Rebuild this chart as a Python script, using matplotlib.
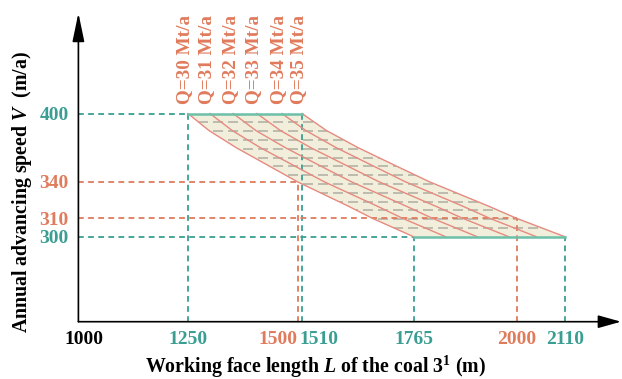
import numpy as np
import matplotlib
matplotlib.use("Agg")
import matplotlib.pyplot as plt
import matplotlib.transforms as mtransforms

plt.rcParams['font.family'] = ['Liberation Serif', 'DejaVu Serif']
plt.rcParams['font.weight'] = 'bold'
plt.rcParams['mathtext.fontset'] = 'custom'
plt.rcParams['mathtext.rm'] = 'Liberation Serif:bold'
plt.rcParams['mathtext.it'] = 'Liberation Serif:italic:bold'
plt.rcParams['mathtext.bf'] = 'Liberation Serif:bold'

# ---------------- data ----------------
Q_labels = ["Q=30 Mt/a", "Q=31 Mt/a", "Q=32 Mt/a", "Q=33 Mt/a", "Q=34 Mt/a", "Q=35 Mt/a"]
V_pts = [400, 385, 370, 355, 340, 320, 310, 300]
L_q30 = [1250, 1298, 1360, 1430, 1500, 1616, 1671, 1765]
L_q31 = [1300, 1351, 1415, 1488, 1561, 1682, 1740, 1838]
L_q32 = [1353, 1405, 1472, 1547, 1623, 1748, 1808, 1910]
L_q33 = [1407, 1461, 1530, 1608, 1686, 1815, 1877, 1982]
L_q34 = [1464, 1519, 1588, 1667, 1746, 1877, 1939, 2045]
L_q35 = [1510, 1566, 1638, 1719, 1801, 1936, 2000, 2110]
curves = [L_q30, L_q31, L_q32, L_q33, L_q34, L_q35]

x_ticks = [1000, 1250, 1500, 1510, 1765, 2000, 2110]
y_ticks = [300, 310, 340, 400]
V_max, V_min = 400, 300
ref_orange = [(1500, 340), (2000, 310)]   # (L, V)
ref_teal_top = [1250, 1510]               # at V=400
ref_teal_bot = [1765, 2110]               # at V=300

# ---------------- style ----------------
TEAL = '#3a9f92'
ORANGE = '#e07b5c'
CURVE = '#e68a80'
FILL = '#f1eedb'
EDGE = '#6cc0a8'
GRAYD = '#b3b3a6'

# schematic (non-uniform) vertical scale of the original
V_KN = [0, 300, 310, 340, 400, 1000]
P_KN = [-370.2, 0, 18.4, 55.0, 123.4, 863.8]
fwd = lambda v: np.interp(v, V_KN, P_KN)
inv = lambda p: np.interp(p, P_KN, V_KN)

fig = plt.figure(figsize=(6.22, 3.79), dpi=100)
ax = fig.add_axes([78.4/622, 57.3/379, (621-78.4)/622, (379-13-57.3)/379])
ax.set_yscale('function', functions=(fwd, inv))
ax.set_xlim(1000, 2237.7)
ax.set_ylim(float(inv(-85.0)), float(inv(224.0)))
ybot = ax.get_ylim()[0]
for s in ax.spines.values():
    s.set_visible(False)

# fill region
poly = ax.fill_betweenx(V_pts, L_q30, L_q35, color=FILL, lw=0, zorder=1)

# gray dashed hatch lines clipped to region
ps = np.linspace(fwd(V_min), fwd(V_max), 15)[1:-1]
for p in ps:
    v = float(inv(p))
    ln, = ax.plot([1000, 2237], [v, v], color=GRAYD, lw=1.2,
                  linestyle=(0, (6, 3)), zorder=2)
    ln.set_clip_path(poly.get_paths()[0], ax.transData)

# reference dashed lines
dash = (0, (3.2, 2.4))
ax.plot([1000, ref_teal_top[0]], [V_max, V_max], color=TEAL, lw=1.3, ls=dash, zorder=3)
ax.plot([1000, ref_teal_bot[0]], [V_min, V_min], color=TEAL, lw=1.3, ls=dash, zorder=3)
for L in ref_teal_top:
    ax.plot([L, L], [ybot, V_max], color=TEAL, lw=1.3, ls=dash, zorder=3)
for L in ref_teal_bot:
    ax.plot([L, L], [ybot, V_min], color=TEAL, lw=1.3, ls=dash, zorder=3)
for L, V in ref_orange:
    ax.plot([1000, L], [V, V], color=ORANGE, lw=1.3, ls=dash, zorder=3)
    ax.plot([L, L], [ybot, V], color=ORANGE, lw=1.3, ls=dash, zorder=3)

# curves
for c in curves:
    ax.plot(c, V_pts, color=CURVE, lw=1.0, zorder=4)

# green edges
ax.plot(ref_teal_top, [V_max, V_max], color=EDGE, lw=1.8, zorder=5)
ax.plot(ref_teal_bot, [V_min, V_min], color=EDGE, lw=1.8, zorder=5)

# Q labels
for lab, c in zip(Q_labels, curves):
    ax.annotate(lab, xy=(c[0], V_max), xytext=(-3, 10), textcoords='offset pixels',
                rotation=90, ha='center', va='bottom', color=ORANGE,
                fontsize=13.8, fontweight='bold')

# axes arrows
ax.annotate('', xy=(1.0, 0), xytext=(0, 0), xycoords='axes fraction',
            arrowprops=dict(arrowstyle='-|>,head_length=1.0,head_width=0.28',
                            color='black', lw=1.2, shrinkA=0, shrinkB=0,
                            mutation_scale=14), annotation_clip=False)
ax.annotate('', xy=(0, 1.0), xytext=(0, 0), xycoords='axes fraction',
            arrowprops=dict(arrowstyle='-|>,head_length=1.25,head_width=0.26',
                            color='black', lw=1.2, shrinkA=0, shrinkB=0,
                            mutation_scale=14), annotation_clip=False)

# ticks
ax.set_xticks(x_ticks)
ax.set_xticklabels([str(t) for t in x_ticks])
ax.set_yticks(y_ticks)
ax.set_yticklabels([str(t) for t in y_ticks])
ax.yaxis.set_minor_locator(matplotlib.ticker.NullLocator())
ax.xaxis.set_minor_locator(matplotlib.ticker.NullLocator())
ax.tick_params(axis='both', length=0, labelsize=14)
ax.tick_params(axis='x', pad=7)
ax.tick_params(axis='y', pad=7)
xcol = {1000: 'black', 1250: TEAL, 1500: ORANGE, 1510: TEAL, 1765: TEAL, 2000: ORANGE, 2110: TEAL}
for t, lbl in zip(x_ticks, ax.get_xticklabels()):
    lbl.set_color(xcol[t])
    lbl.set_fontweight('bold')
    if t == 1500:
        lbl.set_ha('right')
    elif t == 1510:
        lbl.set_ha('left')
        lbl.set_transform(lbl.get_transform() +
                          mtransforms.ScaledTranslation(-3/100, 0, fig.dpi_scale_trans))
    elif t == 1000:
        lbl.set_transform(lbl.get_transform() +
                          mtransforms.ScaledTranslation(6/100, 0, fig.dpi_scale_trans))
ycol = {300: TEAL, 310: ORANGE, 340: ORANGE, 400: TEAL}
for t, lbl in zip(y_ticks, ax.get_yticklabels()):
    lbl.set_color(ycol[t])
    lbl.set_fontweight('bold')

fig.text(316/622, 1 - 367/379, r'Working face length $\mathit{L}$ of the coal $\mathrm{3}^{\mathrm{1}}$ (m)',
         ha='center', va='center', fontsize=14.3, fontweight='bold')
fig.text(22/622, 1 - 192/379, r'Annual advancing speed $\mathit{V}$  (m/a)',
         ha='center', va='center', rotation=90, fontsize=14.3, fontweight='bold')

fig.savefig('out.png', dpi=100)
